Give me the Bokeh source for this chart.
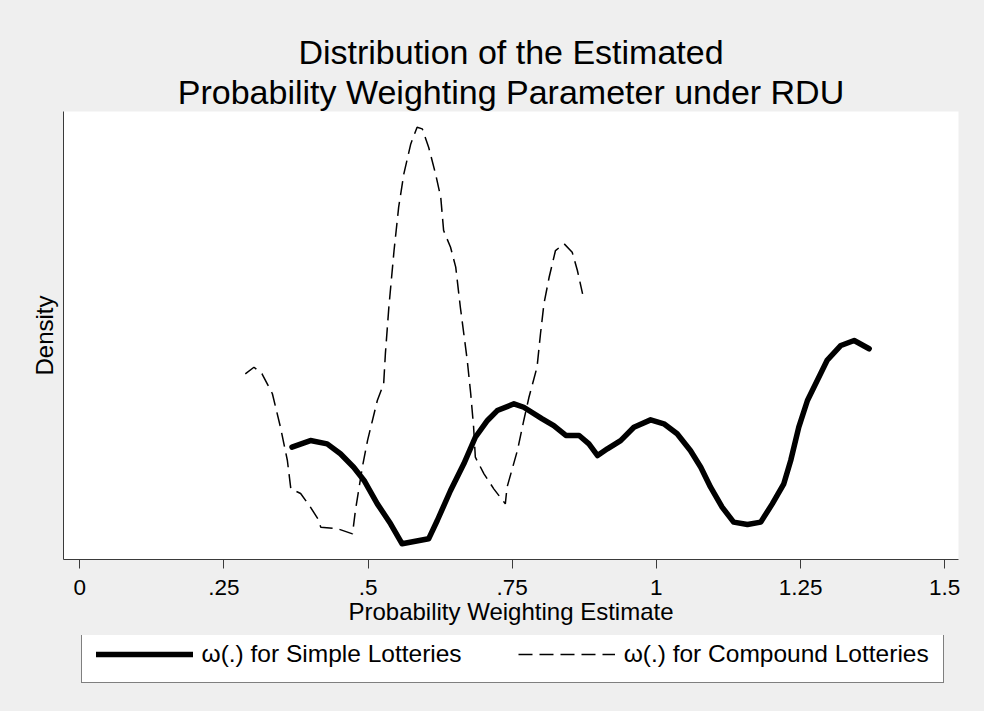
from bokeh.plotting import figure
from bokeh.models import Range1d, FixedTicker, Title, Legend, LegendItem
from bokeh.layouts import column
from bokeh.embed import file_html
from bokeh.resources import INLINE

# ---- data ----
simple_x = [0.368, 0.400, 0.429, 0.452, 0.475, 0.493, 0.516, 0.539, 0.559, 0.605,
            0.620, 0.643, 0.666, 0.686, 0.707, 0.724, 0.753, 0.770, 0.802, 0.822,
            0.843, 0.866, 0.883, 0.898, 0.915, 0.938, 0.961, 0.990, 1.013, 1.036,
            1.059, 1.077, 1.094, 1.114, 1.134, 1.158, 1.181, 1.201, 1.221, 1.233,
            1.247, 1.262, 1.279, 1.296, 1.320, 1.343, 1.369]
simple_y = [0.749, 0.793, 0.771, 0.705, 0.615, 0.527, 0.371, 0.238, 0.105, 0.138,
            0.260, 0.460, 0.638, 0.815, 0.927, 0.993, 1.038, 1.015, 0.938, 0.893,
            0.827, 0.827, 0.771, 0.693, 0.738, 0.793, 0.882, 0.931, 0.905, 0.838,
            0.727, 0.615, 0.482, 0.349, 0.249, 0.233, 0.249, 0.371, 0.505, 0.660,
            0.882, 1.060, 1.193, 1.327, 1.427, 1.460, 1.405]

compound_x = [0.287, 0.302, 0.316, 0.334, 0.348, 0.360, 0.366, 0.383, 0.400, 0.413,
              0.418, 0.447, 0.473, 0.478, 0.490, 0.499, 0.516, 0.527, 0.530, 0.536,
              0.545, 0.553, 0.562, 0.574, 0.585, 0.594, 0.605, 0.617, 0.626, 0.631,
              0.643, 0.652, 0.660, 0.666, 0.672, 0.678, 0.683, 0.686, 0.701, 0.718,
              0.738, 0.741, 0.759, 0.770, 0.779, 0.793, 0.799, 0.805, 0.814, 0.825,
              0.840, 0.854, 0.863, 0.872]
compound_y = [1.238, 1.282, 1.238, 1.105, 0.882, 0.660, 0.471, 0.440, 0.349, 0.271,
              0.215, 0.205, 0.171, 0.327, 0.615, 0.793, 1.060, 1.171, 1.373, 1.682,
              2.060, 2.349, 2.571, 2.771, 2.882, 2.871, 2.749, 2.571, 2.415, 2.193,
              2.082, 1.949, 1.682, 1.505, 1.327, 1.105, 0.882, 0.682, 0.571, 0.471,
              0.371, 0.482, 0.727, 0.927, 1.082, 1.282, 1.505, 1.705, 1.882, 2.060,
              2.105, 2.049, 1.927, 1.771]

x_ticks = [0, 0.25, 0.5, 0.75, 1, 1.25, 1.5]
x_tick_labels = ["0", ".25", ".5", ".75", "1", "1.25", "1.5"]
title_lines = ["Distribution of the Estimated",
               "Probability Weighting Parameter under RDU"]
x_title = "Probability Weighting Estimate"
y_title = "Density"
series_names = ["ω(.) for Simple Lotteries", "ω(.) for Compound Lotteries"]

FONT = "Liberation Sans"
BG = "#efefef"
AX = "#3a3a3a"
SOLID = dict(line_width=5.5, line_color="black", line_join="round", line_cap="round")
DASHED = dict(line_width=1.5, line_color="black", line_dash="14 7")
XR = (-0.0283, 1.524)

# ---------------- main plot ----------------
p = figure(frame_width=895, frame_height=448,
           output_backend="svg", toolbar_location=None,
           x_range=Range1d(*XR), y_range=Range1d(0, 2.987),
           background_fill_color="white", border_fill_color=BG,
           min_border_left=63, min_border_right=26,
           min_border_top=111, min_border_bottom=76)
p.outline_line_color = None
p.grid.visible = False

# two title lines: the second one sits next to the frame, the first above it
for txt, so in zip(reversed(title_lines), [1, 0]):
    p.add_layout(Title(text=txt, align="center", text_font=FONT,
                       text_font_size="34px", text_font_style="normal",
                       text_color="black", standoff=so), "above")

xa = p.xaxis[0]
xa.ticker = FixedTicker(ticks=x_ticks)
xa.major_label_overrides = {t: l for t, l in zip(x_ticks, x_tick_labels)}
xa.major_tick_in = 0
xa.major_tick_out = 9
xa.minor_tick_in = 0
xa.minor_tick_out = 0
xa.axis_line_color = AX
xa.major_tick_line_color = AX
xa.major_label_text_font = FONT
xa.major_label_text_font_size = "22.5px"
xa.major_label_text_color = "black"
xa.major_label_standoff = 11
xa.axis_label = x_title
xa.axis_label_text_font = FONT
xa.axis_label_text_font_size = "24px"
xa.axis_label_text_font_style = "normal"
xa.axis_label_text_color = "black"
xa.axis_label_standoff = 0

ya = p.yaxis[0]
ya.ticker = FixedTicker(ticks=[])
ya.major_tick_in = 0
ya.major_tick_out = 0
ya.minor_tick_in = 0
ya.minor_tick_out = 0
ya.major_label_text_font_size = "0px"
ya.major_label_standoff = 0
ya.axis_line_color = AX
ya.axis_label = y_title
ya.axis_label_text_font = FONT
ya.axis_label_text_font_size = "24px"
ya.axis_label_text_font_style = "normal"
ya.axis_label_text_color = "black"
ya.axis_label_standoff = 6

p.line(simple_x, simple_y, **SOLID)
p.line(compound_x, compound_y, **DASHED)

# ---------------- legend strip (its frame is aligned with the plot frame) -------
lg = figure(width=984, height=76, output_backend="svg", toolbar_location=None,
            x_range=Range1d(*XR), y_range=Range1d(10, 11),
            x_axis_location=None, y_axis_location=None,
            background_fill_color=BG, border_fill_color=BG, min_border=0)
lg.outline_line_color = None
lg.grid.visible = False
# same series, outside this strip's visible range: only their legend keys show
k1 = lg.line(simple_x, simple_y, **SOLID)
k2 = lg.line(compound_x, compound_y, **DASHED)
legend = Legend(items=[LegendItem(label=series_names[0], renderers=[k1]),
                       LegendItem(label=series_names[1], renderers=[k2])],
                orientation="horizontal", location=(17.5, 28),
                glyph_width=97, glyph_height=20, label_standoff=9,
                label_text_font=FONT, label_text_font_size="24.5px",
                label_text_color="black", spacing=56, padding=14,
                border_line_color="black", border_line_width=1,
                background_fill_color="white", background_fill_alpha=1.0,
                margin=0)
lg.add_layout(legend, "center")

page = column(p, lg, spacing=0, styles={"background-color": BG})
open("out.html", "w").write(file_html(page, INLINE))
